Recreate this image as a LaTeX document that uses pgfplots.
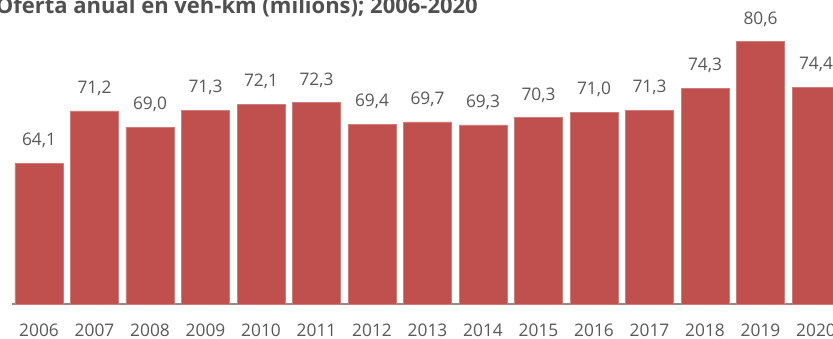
\documentclass[border=0pt]{standalone}
\usepackage{pgfplots}
\pgfplotsset{compat=1.18}
\usepackage{fontspec}
\setmainfont{Open Sans}
\definecolor{barred}{HTML}{C0504D}
\definecolor{labgray}{HTML}{595959}
\definecolor{axgray}{HTML}{8C8C8C}
\begin{document}
\begin{tikzpicture}[x=1bp,y=1bp]
\clip (0,0) rectangle (833,338);
\fill[white] (0,0) rectangle (833,338);
\node[anchor=base east, font=\fontsize{22bp}{26bp}\selectfont\bfseries, text=labgray!90!black, inner sep=0pt] at (478,324.7) {Oferta anual en veh-km (milions); 2006-2020};
\begin{axis}[
  at={(11.8bp,34bp)}, anchor=south west,
  scale only axis, width=831.95bp, height=294.8bp,
  xmin=-0.49, xmax=14.5, ymin=45, ymax=85,
  axis x line*=bottom, axis y line=none,
  x axis line style={draw=axgray, line width=1.5bp, -},
  xtick=data,
  xticklabels={2006,2007,2008,2009,2010,2011,2012,2013,2014,2015,2016,2017,2018,2019,2020},
  major tick length=0pt,
  xticklabel style={anchor=base, yshift=-32.4bp, inner sep=0pt, font=\fontsize{17.3bp}{20bp}\selectfont, text=labgray},
  /pgf/number format/assume math mode=true,
  ybar, bar width=48bp,
  nodes near coords,
  nodes near coords style={anchor=base, yshift=17.5bp, inner sep=0pt, font=\fontsize{17.3bp}{20bp}\selectfont, text=labgray, /pgf/number format/.cd, fixed, fixed zerofill, precision=1, use comma},
  clip=false,
]
\addplot[fill=barred, draw=barred!75!white, line width=0.6bp] coordinates {
(0,64.1) (1,71.2) (2,69.0) (3,71.3) (4,72.1) (5,72.3) (6,69.4) (7,69.7)
(8,69.3) (9,70.3) (10,71.0) (11,71.3) (12,74.3) (13,80.6) (14,74.4)};
\end{axis}
\end{tikzpicture}
\end{document}
